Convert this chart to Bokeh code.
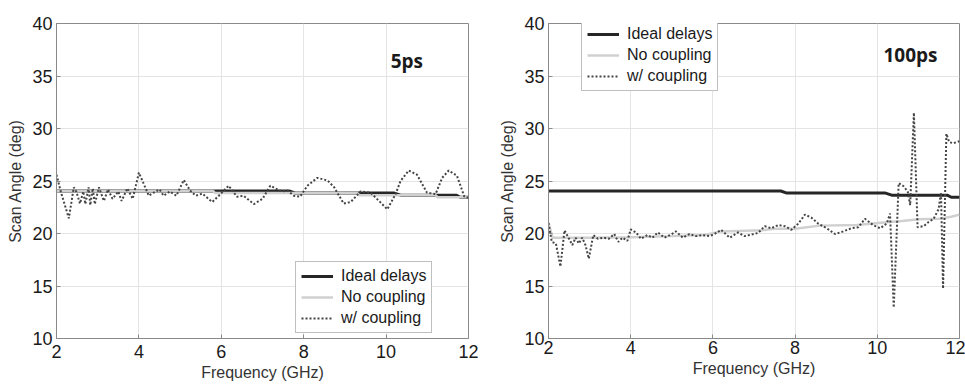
from bokeh.plotting import figure
from bokeh.layouts import row
from bokeh.models import Range1d, Label, FixedTicker
from bokeh.embed import file_html
from bokeh.resources import INLINE

# ---------------- data ----------------
x_ticks = [2, 4, 6, 8, 10, 12]
y_ticks = [10, 15, 20, 25, 30, 35, 40]

ideal_f = [2, 7.65, 7.8, 10.2, 10.35, 11.7, 11.8, 12]
ideal_v = [24.05, 24.05, 23.85, 23.85, 23.65, 23.65, 23.45, 23.45]

# 5 ps panel
nocpl5_f = [2, 5.8, 5.85, 9.3, 9.35, 11.2, 11.25, 12]
nocpl5_v = [24.05, 24.05, 23.85, 23.85, 23.65, 23.65, 23.45, 23.45]

cpl5_f = [2.0, 2.11, 2.30, 2.42, 2.48, 2.57, 2.65, 2.70, 2.78, 2.82, 2.88, 2.93, 3.03,
          3.15, 3.25, 3.36, 3.50, 3.58, 3.72, 3.85, 4.0, 4.12, 4.24, 4.36, 4.5, 4.6,
          4.75, 4.91, 5.09, 5.24, 5.38, 5.54, 5.78, 5.94, 6.18, 6.38, 6.54, 6.79, 7.0,
          7.19, 7.36, 7.48, 7.6, 7.76, 7.91, 8.09, 8.33, 8.58, 8.74, 8.97, 9.14, 9.38,
          9.62, 9.83, 10.03, 10.23, 10.35, 10.55, 10.75, 10.99, 11.2, 11.36, 11.52,
          11.72, 11.9, 12.0]
cpl5_v = [25.6, 23.9, 21.45, 24.4, 24.0, 22.85, 24.0, 22.8, 24.4, 22.7, 24.3, 22.8, 24.4,
          23.1, 24.2, 23.3, 24.0, 23.1, 24.3, 23.3, 25.8, 24.7, 23.6, 23.9, 24.2, 23.6,
          24.0, 23.6, 25.1, 24.1, 23.6, 23.8, 23.0, 23.6, 24.55, 23.5, 23.6, 22.8, 23.3,
          24.55, 24.2, 24.0, 24.1, 23.6, 23.5, 24.55, 25.3, 25.05, 24.4, 22.85, 23.0, 24.0,
          23.9, 23.1, 22.3, 23.75, 25.0, 26.0, 25.6, 23.9, 23.75, 25.3, 26.0,
          25.5, 23.5, 23.4]

# 100 ps panel
nocpl100_f = [2, 2.1, 3, 4, 5, 5.8, 6.2, 7.2, 7.5, 8.0, 8.6, 9.5, 10.3, 10.6, 11.0, 11.5, 11.8, 12]
nocpl100_v = [21.0, 19.6, 19.6, 19.65, 19.75, 19.85, 20.2, 20.3, 20.45, 20.45, 20.75, 20.8,
              21.1, 21.2, 21.35, 21.4, 21.6, 21.8]

cpl100_f = [2.0, 2.08, 2.18, 2.29, 2.39, 2.5, 2.58, 2.66, 2.74, 2.82, 2.9, 2.98, 3.09, 3.2,
            3.35, 3.47, 3.6, 3.7, 3.8, 3.92, 4.0, 4.13, 4.25, 4.41, 4.53, 4.66, 4.82, 4.98,
            5.1, 5.27, 5.43, 5.59, 5.75, 5.92, 6.04, 6.2, 6.41, 6.61, 6.77, 6.94, 7.1, 7.26,
            7.42, 7.59, 7.75, 7.91, 8.08, 8.24, 8.4, 8.56, 8.77, 8.97, 9.17, 9.37, 9.54, 9.7,
            9.9, 10.07, 10.23, 10.31, 10.4, 10.52, 10.64, 10.74, 10.8, 10.89, 10.98, 11.13,
            11.25, 11.37, 11.49, 11.55, 11.6, 11.68, 11.75, 11.85, 12.0]
cpl100_v = [21.0, 19.2, 19.05, 16.85, 20.3, 19.5, 18.9, 19.6, 19.05, 19.6, 18.9, 17.6, 19.85,
            19.5, 19.6, 19.5, 19.95, 19.2, 19.6, 19.3, 20.4, 20.1, 19.5, 19.85, 19.6, 20.1,
            19.6, 19.9, 20.2, 19.6, 19.95, 19.75, 19.85, 19.75, 19.95, 20.35, 19.6, 20.1,
            19.75, 19.9, 20.05, 20.7, 20.5, 20.8, 20.7, 20.35, 20.95, 21.8, 21.5, 20.95,
            20.5, 19.95, 20.2, 20.5, 20.6, 21.4, 20.8, 20.5, 20.95, 21.9, 12.95, 24.8, 24.5,
            24.0, 22.7, 31.5, 20.6, 20.7, 21.1, 21.4, 22.3, 23.9, 14.75, 29.5, 28.7, 28.6, 28.8]

FONT = "Liberation Sans"


def panel(width, height, bl, br, bt, bb, xstand, nc_f, nc_v, c_f, c_v,
          tag, tag_x, tag_y, leg_loc):
    p = figure(width=width, height=height, output_backend="svg", toolbar_location=None,
               x_range=Range1d(2, 12), y_range=Range1d(10, 40),
               min_border_left=bl, min_border_right=br, min_border_top=bt,
               min_border_bottom=bb)
    p.background_fill_color = "white"
    p.border_fill_color = "white"
    p.outline_line_color = "#8a8a8a"
    p.outline_line_width = 1

    for ax in (p.xaxis[0], p.yaxis[0]):
        ax.axis_line_color = "#8a8a8a"
        ax.major_tick_in = 4
        ax.major_tick_out = 0
        ax.major_tick_line_color = "#8a8a8a"
        ax.minor_tick_line_color = None
        ax.major_label_text_font = FONT
        ax.major_label_text_font_size = "18px"
        ax.major_label_text_color = "#1a1a1a"
        ax.axis_label_text_font = FONT
        ax.axis_label_text_font_size = "16px"
        ax.axis_label_text_font_style = "normal"
        ax.axis_label_text_color = "#333333"
    p.xaxis.ticker = FixedTicker(ticks=x_ticks)
    p.yaxis.ticker = FixedTicker(ticks=y_ticks)
    p.xaxis.axis_label = "Frequency (GHz)"
    p.yaxis.axis_label = "Scan Angle (deg)"
    p.xaxis.major_label_standoff = xstand
    p.xaxis.axis_label_standoff = 3
    p.yaxis.major_label_standoff = 4
    p.yaxis.axis_label_standoff = 5

    p.xgrid.ticker = FixedTicker(ticks=x_ticks)
    p.ygrid.ticker = FixedTicker(ticks=y_ticks)
    p.grid.grid_line_color = "#e4e4e4"
    p.grid.grid_line_width = 1

    p.line(ideal_f, ideal_v, line_color="#262626", line_width=3, legend_label="Ideal delays")
    p.line(nc_f, nc_v, line_color="#d0d0d0", line_width=2.5, legend_label="No coupling")
    p.line(c_f, c_v, line_color="#444444", line_width=2, line_dash="2 2",
           legend_label="w/ coupling")

    p.add_layout(Label(x=tag_x, y=tag_y, text=tag, text_font="Open Sans",
                       text_font_style="bold", text_font_size="19px",
                       text_color="#1a1a1a", text_baseline="middle"))

    lg = p.legend[0]
    lg.location = leg_loc
    lg.label_text_font = FONT
    lg.label_text_font_size = "16px"
    lg.label_text_color = "#1a1a1a"
    lg.glyph_width = 32
    lg.glyph_height = 18
    lg.label_height = 18
    lg.label_standoff = 8
    lg.spacing = 3
    lg.padding = 5
    lg.margin = 0
    lg.border_line_color = "#808080"
    lg.border_line_width = 1
    lg.background_fill_color = "white"
    lg.background_fill_alpha = 1
    return p


left = panel(480, 392, 56, 12, 16, 54, 6, nocpl5_f, nocpl5_v, cpl5_f, cpl5_v,
             "5ps", 10.11, 36.4, (239, 5))
right = panel(485, 392, 68, 6, 23, 49, 2, nocpl100_f, nocpl100_v, cpl100_f, cpl100_v,
              "100ps", 10.15, 37.0, (33, 247))

layout = row(left, right, spacing=0)
open("out.html", "w").write(file_html(layout, INLINE))
